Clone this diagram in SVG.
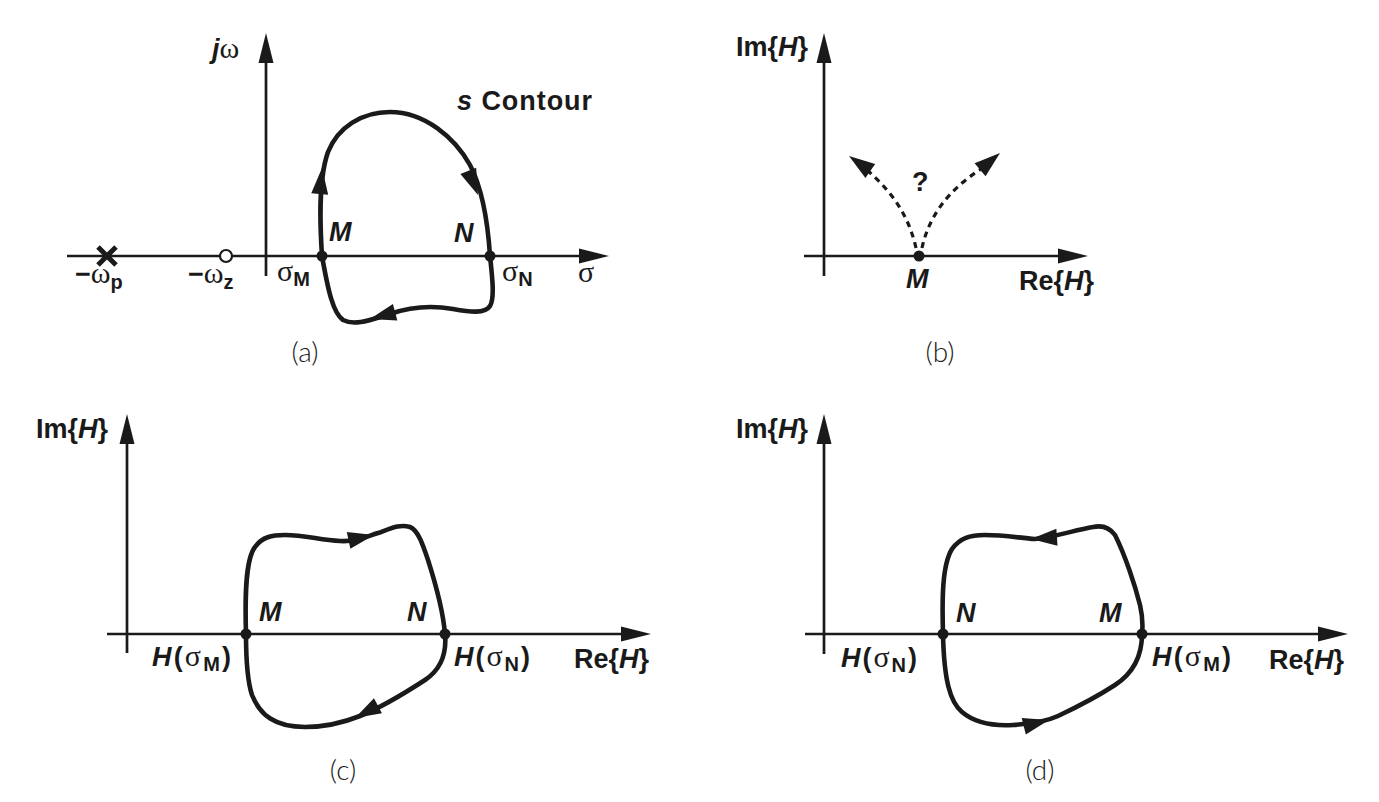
<svg xmlns="http://www.w3.org/2000/svg" width="1379" height="802" viewBox="0 0 1379 802">
<style>
  .ax { stroke:#1a1a1a; stroke-width:2.7; fill:none; }
  .ct { stroke:#1a1a1a; stroke-width:4.6; fill:none; stroke-linejoin:round; }
  .ds { stroke:#1a1a1a; stroke-width:3.2; fill:none; stroke-dasharray:6 5; }
  .hd { fill:#1a1a1a; }
  .t { font-family:"Liberation Sans", Arial, sans-serif; font-weight:bold; fill:#1a1a1a; font-size:27px; }
  .bi { font-style:italic; }
  .gr { font-family:"Liberation Serif", "DejaVu Serif", serif; font-weight:normal; font-style:normal; font-size:30px; }
  .sub { font-size:20px; }
  .cap { font-family:"Lato", "Liberation Sans", sans-serif; font-weight:300; font-size:28px; fill:#1a1a1a; text-anchor:middle; }
</style>
<defs>
  <path id="axh" d="M0,0 L-30,-7.5 L-30,7.5 Z"/>
  <path id="ah" d="M0,0 L-26,-8.5 L-26,8.5 Z"/>
</defs>

<!-- Panel (a) -->
<g id="panel-a">
  <line class="ax" x1="67" y1="256" x2="582" y2="256"/>
  <use href="#axh" class="hd" transform="translate(609,256)"/>
  <line class="ax" x1="266" y1="276" x2="266" y2="60"/>
  <use href="#axh" class="hd" transform="translate(266,33) rotate(-90)"/>
  <g id="pole"><line x1="98" y1="247" x2="116" y2="265" stroke="#1a1a1a" stroke-width="5"/><line x1="98" y1="265" x2="116" y2="247" stroke="#1a1a1a" stroke-width="5"/></g>
  <circle id="zero" cx="226" cy="256" r="6" fill="#fff" stroke="#1a1a1a" stroke-width="2.2"/>
  <text class="t" x="212" y="58"><tspan class="bi">j</tspan><tspan class="gr">ω</tspan></text>
  <text class="t" x="75" y="283">−<tspan class="gr">ω</tspan><tspan class="sub" dy="6">p</tspan></text>
  <text class="t" x="188" y="283">−<tspan class="gr">ω</tspan><tspan class="sub" dy="6">z</tspan></text>
  <text class="t" x="277" y="281"><tspan class="gr">σ</tspan><tspan class="sub" dy="5">M</tspan></text>
  <text class="t" x="502" y="281"><tspan class="gr">σ</tspan><tspan class="sub" dy="5">N</tspan></text>
  <text class="t gr" x="578" y="282">σ</text>
  <text class="t bi" x="329" y="241">M</text>
  <text class="t bi" x="454" y="242">N</text>
  <text class="t" x="457" y="110" font-size="26" textLength="135" lengthAdjust="spacing"><tspan class="bi">s</tspan> Contour</text>
  <text class="cap" x="305" y="362">(a)</text>
</g>

<!-- Panel (b) -->
<g id="panel-b">
  <line class="ax" x1="804" y1="256" x2="1060" y2="256"/>
  <use href="#axh" class="hd" transform="translate(1088,256)"/>
  <line class="ax" x1="824" y1="276" x2="824" y2="60"/>
  <use href="#axh" class="hd" transform="translate(824,33) rotate(-90)"/>
  <text class="t" x="808" y="56" text-anchor="end">Im{<tspan class="bi">H</tspan>}</text>
  <text class="t bi" x="906" y="288">M</text>
  <text class="t" x="1019" y="290">Re{<tspan class="bi">H</tspan>}</text>
  <text class="t" x="912" y="191" font-size="22">?</text>
  <text class="cap" x="940" y="362">(b)</text>
</g>

<!-- Panel (c) -->
<g id="panel-c">
  <line class="ax" x1="107" y1="634" x2="622" y2="634"/>
  <use href="#axh" class="hd" transform="translate(651,634)"/>
  <line class="ax" x1="127" y1="653" x2="127" y2="442"/>
  <use href="#axh" class="hd" transform="translate(127,414) rotate(-90)"/>
  <text class="t" x="108" y="438" text-anchor="end">Im{<tspan class="bi">H</tspan>}</text>
  <text class="t bi" x="259" y="621">M</text>
  <text class="t bi" x="407" y="621">N</text>
  <text class="t" x="152" y="666" textLength="79" lengthAdjust="spacing"><tspan class="bi">H</tspan>(<tspan class="gr">σ</tspan><tspan class="sub" dy="5">M</tspan><tspan dy="-5">)</tspan></text>
  <text class="t" x="454" y="666" textLength="76" lengthAdjust="spacing"><tspan class="bi">H</tspan>(<tspan class="gr">σ</tspan><tspan class="sub" dy="5">N</tspan><tspan dy="-5">)</tspan></text>
  <text class="t" x="574" y="668">Re{<tspan class="bi">H</tspan>}</text>
  <text class="cap" x="343" y="780">(c)</text>
</g>

<!-- Panel (d) -->
<g id="panel-d">
  <line class="ax" x1="805" y1="634" x2="1320" y2="634"/>
  <use href="#axh" class="hd" transform="translate(1348,634)"/>
  <line class="ax" x1="824" y1="654" x2="824" y2="442"/>
  <use href="#axh" class="hd" transform="translate(824,414) rotate(-90)"/>
  <text class="t" x="808" y="438" text-anchor="end">Im{<tspan class="bi">H</tspan>}</text>
  <text class="t bi" x="956" y="622">N</text>
  <text class="t bi" x="1099" y="622">M</text>
  <text class="t" x="841" y="667" textLength="76" lengthAdjust="spacing"><tspan class="bi">H</tspan>(<tspan class="gr">σ</tspan><tspan class="sub" dy="5">N</tspan><tspan dy="-5">)</tspan></text>
  <text class="t" x="1152" y="666" textLength="79" lengthAdjust="spacing"><tspan class="bi">H</tspan>(<tspan class="gr">σ</tspan><tspan class="sub" dy="5">M</tspan><tspan dy="-5">)</tspan></text>
  <text class="t" x="1269" y="669">Re{<tspan class="bi">H</tspan>}</text>
  <text class="cap" x="1040" y="780">(d)</text>
</g>

<!-- Connectors: contours and their arrows -->
<g id="connectors">
  <path class="ct" d="M322,256 C320,225 318,180 328,152 C338,127 362,112 390,112 C425,112 455,138 470,165 C482,188 488,225 490,256 C492,275 495,298 490,306 C485,314 470,312 453,309 C430,305 410,307 390,314 C370,320 355,326 343,320 C333,313 328,290 322,256 Z"/>
  <use href="#ah" class="hd" transform="translate(322,168) rotate(-85)"/>
  <use href="#ah" class="hd" transform="translate(478,195) rotate(68)"/>
  <use href="#ah" class="hd" transform="translate(370,319) rotate(165)"/>
  <circle class="hd" cx="322" cy="256" r="5.5"/>
  <circle class="hd" cx="490" cy="256" r="5.5"/>

  <path class="ds" d="M916,248 C910,222 898,197 867,170"/>
  <use href="#ah" class="hd" transform="translate(849,156) rotate(215)"/>
  <path class="ds" d="M922,248 C928,220 945,192 981,169"/>
  <use href="#ah" class="hd" transform="translate(1000,153) rotate(-40)"/>
  <circle class="hd" cx="919" cy="256" r="5.5"/>

  <path class="ct" d="M246,634 C245,600 245,560 255,547 C262,537 272,535 285,535 C305,535 320,540 340,541 C355,542 365,537 378,533 C392,528 400,524 410,527 C418,530 423,545 428,560 C436,585 443,610 445,634 C447,655 440,670 425,680 C405,693 380,708 360,716 C345,722 325,727 305,727 C275,727 260,715 252,695 C247,680 246,660 246,634 Z"/>
  <use href="#ah" class="hd" transform="translate(374,535) rotate(-12)"/>
  <use href="#ah" class="hd" transform="translate(355,718) rotate(152)"/>
  <circle class="hd" cx="246" cy="634" r="5.5"/>
  <circle class="hd" cx="445" cy="634" r="5.5"/>

  <path class="ct" d="M943,634 C942,600 942,565 952,549 C960,538 970,535 985,535 C1005,535 1020,538 1035,539 C1055,537 1075,530 1093,527 C1102,525 1110,528 1115,535 C1125,555 1135,585 1140,605 C1143,618 1143,625 1142,634 C1142,655 1135,672 1115,685 C1095,698 1075,708 1058,716 C1045,722 1030,724 1013,725 C995,726 975,723 962,712 C950,702 944,680 943,634 Z"/>
  <use href="#ah" class="hd" transform="translate(1031,539) rotate(176)"/>
  <use href="#ah" class="hd" transform="translate(1049,720) rotate(-14)"/>
  <circle class="hd" cx="943" cy="634" r="5.5"/>
  <circle class="hd" cx="1142" cy="634" r="5.5"/>
</g>
</svg>
